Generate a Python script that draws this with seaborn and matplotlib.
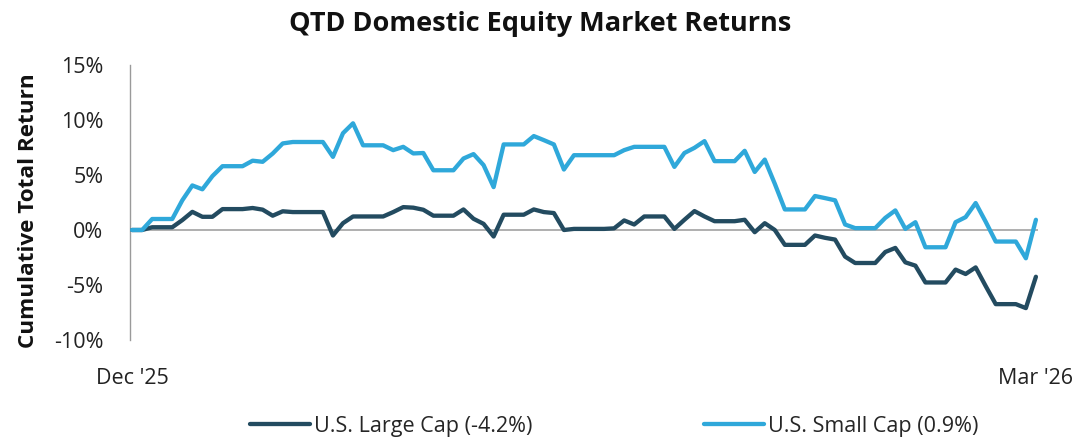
import matplotlib
matplotlib.use("Agg")
import matplotlib.pyplot as plt
import seaborn as sns
import pandas as pd

# daily dates for the quarter (calendar days, weekends repeat the last close)
dates = pd.date_range("2025-12-31", "2026-03-31", freq="D")

large_cap = [0, 0, 0.25, 0.25, 0.25, 0.9, 1.65, 1.2, 1.2, 1.9,
             1.9, 1.9, 2.0, 1.85, 1.3, 1.7, 1.63, 1.63, 1.63, 1.63,
             -0.5, 0.62, 1.23, 1.23, 1.23, 1.23, 1.63, 2.08, 2.03, 1.84,
             1.3, 1.3, 1.3, 1.87, 1.02, 0.56, -0.59, 1.39, 1.39, 1.39,
             1.87, 1.63, 1.54, 0.0, 0.1, 0.1, 0.1, 0.1, 0.15, 0.87,
             0.5, 1.23, 1.23, 1.23, 0.1, 0.93, 1.72, 1.23, 0.8, 0.8,
             0.8, 0.93, -0.2, 0.62, 0.0, -1.35, -1.35, -1.35, -0.5, -0.71,
             -0.87, -2.42, -3.0, -3.0, -3.0, -2.0, -1.63, -2.94, -3.24, -4.77,
             -4.77, -4.77, -3.6, -4.0, -3.4, -5.1, -6.74, -6.74, -6.74, -7.1,
             -4.25]

small_cap = [0, 0, 1.0, 1.0, 1.0, 2.7, 4.05, 3.7, 4.9, 5.8,
             5.8, 5.8, 6.3, 6.2, 6.95, 7.87, 8.0, 8.0, 8.0, 8.0,
             6.65, 8.8, 9.7, 7.7, 7.7, 7.7, 7.26, 7.56, 6.96, 7.0,
             5.43, 5.43, 5.43, 6.5, 6.9, 5.9, 3.9, 7.78, 7.78, 7.78,
             8.54, 8.17, 7.78, 5.5, 6.8, 6.8, 6.8, 6.8, 6.8, 7.26,
             7.56, 7.56, 7.56, 7.56, 5.74, 7.0, 7.47, 8.08, 6.26, 6.26,
             6.26, 7.2, 5.28, 6.4, 4.2, 1.87, 1.87, 1.87, 3.09, 2.9,
             2.7, 0.5, 0.17, 0.17, 0.17, 1.1, 1.78, 0.1, 0.71, -1.57,
             -1.57, -1.57, 0.71, 1.17, 2.45, 0.75, -1.05, -1.05, -1.05, -2.57,
             0.93]

series_names = ["U.S. Large Cap (-4.2%)", "U.S. Small Cap (0.9%)"]
colors = ["#234B60", "#2FA8DA"]
y_ticks = [-10, -5, 0, 5, 10, 15]
x_labels = ["Dec '25", "Mar '26"]

df = pd.DataFrame({"date": dates, series_names[0]: large_cap, series_names[1]: small_cap})
long_df = df.melt(id_vars="date", var_name="series", value_name="ret")

sns.set_style("white")
plt.rcParams["font.family"] = ["Open Sans", "DejaVu Sans"]

fig = plt.figure(figsize=(10.81, 4.41), dpi=100)
ax = fig.add_axes([130 / 1081, 1 - 340 / 441, (1038 - 130) / 1081, 275 / 441])

ax.axhline(0, color="#9a9a9a", lw=1.1, zorder=1)
sns.lineplot(data=long_df, x="date", y="ret", hue="series", palette=colors,
             linewidth=3.1, ax=ax, legend=True, zorder=3)

ax.set_xlim(dates[0] - pd.Timedelta(hours=5), dates[-1] + pd.Timedelta(hours=5))
ax.set_ylim(-10, 15)
ax.set_yticks(y_ticks)
ax.set_yticklabels([f"{t}%" for t in y_ticks], fontsize=15.5, color="#222222")
ax.set_xticks([dates[0], dates[-1]])
ax.set_xticklabels(x_labels, fontsize=15.5, color="#222222")
ax.tick_params(axis="x", length=0, pad=20)
ax.tick_params(axis="y", length=7, width=1, color="#9a9a9a", direction="out", pad=12)

for side in ["top", "right", "bottom"]:
    ax.spines[side].set_visible(False)
ax.spines["left"].set_color("#9a9a9a")
ax.spines["left"].set_linewidth(1)

ax.set_xlabel("")
ax.set_ylabel("Cumulative Total Return", fontsize=16.2, fontweight="bold", color="#111111")
ax.yaxis.set_label_coords(-0.1, 0.47)
fig.suptitle("QTD Domestic Equity Market Returns", fontsize=19.5, fontweight="bold",
             x=0.5, y=0.975, color="#111111")

handles, labels = ax.get_legend_handles_labels()
ax.get_legend().remove()
fig.legend(handles, labels, loc="lower center", bbox_to_anchor=(0.568, -0.034), ncol=2,
           frameon=False, fontsize=15.5, handlelength=2.8, handletextpad=0.15,
           columnspacing=8.0)

fig.savefig("out.png", dpi=100)
